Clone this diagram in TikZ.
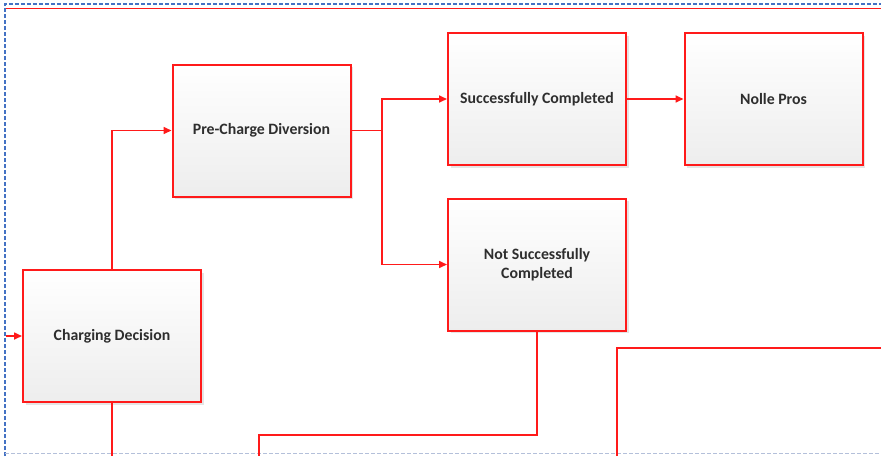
\documentclass[tikz,border=0pt]{standalone}
\usepackage{fontspec}
\setmainfont{Carlito}
\usetikzlibrary{arrows.meta,shadows}
\definecolor{lred}{HTML}{FF1A1A}
\definecolor{dblue}{HTML}{4472C4}
\definecolor{lblue}{HTML}{B4C0DA}
\definecolor{txt}{HTML}{2E2E2E}
\tikzset{
  boxnode/.style={draw=lred, line width=2pt, minimum width=178pt, minimum height=132pt,
    top color=white, bottom color=black!7, align=center, text=txt,
    font=\fontsize{15.8}{19}\selectfont\bfseries, inner sep=0pt,
    drop shadow={shadow xshift=2.5pt, shadow yshift=-2.5pt, opacity=0.25, fill=black!40}},
  conn/.style={draw=lred, line width=1.6pt},
  arr/.style={conn, -{Triangle[length=8pt,width=7pt]}},
}
\begin{document}
\begin{tikzpicture}[x=1pt,y=-1pt]
\useasboundingbox (0,0) rectangle (881,456);
% frame lines
\draw[dblue, line width=1.2pt, dash pattern=on 4pt off 2pt] (5,456) -- (5,4) -- (881,4);
\draw[lblue, line width=1pt, dash pattern=on 4pt off 2pt] (5,453) -- (881,453);
\draw[lred, line width=1.8pt] (6,8.5) -- (881,8.5);
% nodes
\node[boxnode] (cd) at (112,336) {Charging Decision};
\node[boxnode] (pcd) at (261.5,130.5) {Pre-Charge Diversion};
\node[boxnode] (sc) at (537,99) {Successfully Completed};
\node[boxnode] (nsc) at (537,264.5) {Not Successfully\\Completed};
\node[boxnode] (np) at (773.5,99) {Nolle Pros};
% coordinates
\coordinate (in) at (6,336);
\coordinate (fork) at (382,130.5);
\coordinate (b2) at (259,456);
\coordinate (b3) at (617,456);
\coordinate (r3) at (881,348);
% connectors
\draw[arr] (in) -- (cd.west);
\draw[arr] (cd.north) |- (pcd.west);
\draw[conn] (pcd.east) -- (fork);
\draw[arr] (fork) |- (sc.west);
\draw[arr] (fork) |- (nsc.west);
\draw[arr] (sc.east) -- (np.west);
\draw[conn] (nsc.south) -- (nsc.south |- 0,435) -| (b2);
\draw[conn] (cd.south) -- (cd.south |- 0,456);
\draw[conn] (b3) |- (r3);
\end{tikzpicture}
\end{document}
